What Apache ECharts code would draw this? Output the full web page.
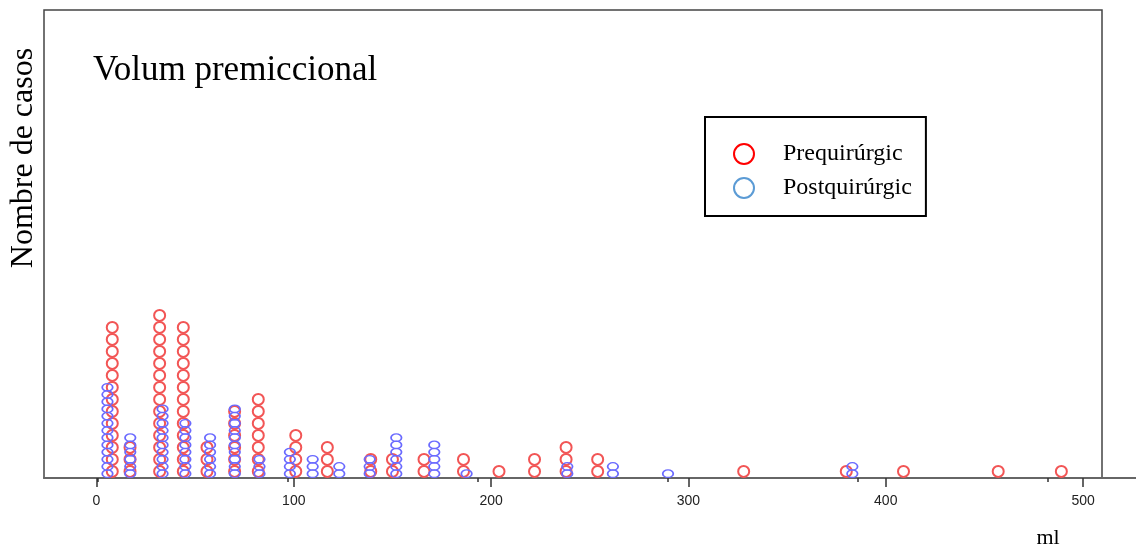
<!DOCTYPE html>
<html>
<head>
<meta charset="utf-8">
<script src="https://cdn.jsdelivr.net/npm/echarts@6/dist/echarts.min.js"></script>
<style>
  html, body { margin: 0; padding: 0; background: #fff; }
  #chart { width: 1142px; height: 549px; }
</style>
</head>
<body>
<div id="chart"></div>
<script>
// x ticks (ml)
const xTicks = [0, 100, 200, 300, 400, 500];

// Prequirúrgic: volume (ml) and number of cases at that volume
const preVolumes = [8, 17, 32, 44, 56, 70, 82, 101, 117, 139, 150, 166, 186, 204, 222, 238, 254, 328, 380, 409, 457, 489];
const preCounts  = [13, 3, 14, 13, 3, 6, 7, 4, 3, 2, 2, 2, 2, 1, 2, 3, 2, 1, 1, 1, 1, 1];

// Postquirúrgic (drawn on its own, slightly narrower x scale)
const postVolumes = [5, 17, 34, 46, 59, 72, 85, 101, 113, 127, 143, 157, 177, 194, 247, 271, 300, 397];
const postCounts  = [13, 6, 10, 8, 6, 10, 3, 4, 3, 2, 3, 6, 5, 1, 2, 2, 1, 2];

const serif = '"Liberation Serif", "Times New Roman", serif';

// one dot per case, stacked upward
function stackDots(volumes, counts) {
  const pts = [];
  volumes.forEach((v, i) => {
    for (let k = 0; k < counts[i]; k++) pts.push([v, k]);
  });
  return pts;
}

const chart = echarts.init(document.getElementById('chart'));

chart.setOption({
  animation: false,
  backgroundColor: '#fff',
  grid: {
    left: 44, right: 40, top: 10, bottom: 71,
    show: true, borderColor: '#444', borderWidth: 1.5
  },
  legend: {
    left: 705, top: 117,
    orient: 'vertical',
    padding: [25, 14, 16, 28],
    borderColor: '#000', borderWidth: 2,
    itemWidth: 20, itemHeight: 20, itemGap: 10,
    textStyle: { fontFamily: serif, fontSize: 24, color: '#000', lineHeight: 20, padding: [0, 0, 0, 24] },
    data: [
      { name: 'Prequirúrgic', icon: 'circle',
        itemStyle: { color: 'rgba(255,255,255,0)', borderColor: '#ff0000', borderWidth: 2 } },
      { name: 'Postquirúrgic', icon: 'circle',
        itemStyle: { color: 'rgba(255,255,255,0)', borderColor: '#5b9bd5', borderWidth: 2 } }
    ]
  },
  xAxis: [
    {
      type: 'value', min: -26.6, max: 509.6,
      splitLine: { show: false },
      axisLine: { show: true, onZero: false, lineStyle: { color: '#666', width: 2 } },
      axisTick: { show: true, length: 9, customValues: xTicks, lineStyle: { color: '#333', width: 1.5 } },
      axisLabel: { customValues: xTicks, margin: 16, fontFamily: '"Liberation Sans", Arial, sans-serif', fontSize: 14, color: '#222' }
    },
    {
      type: 'value', min: -28.4, max: 528.4, position: 'bottom',
      splitLine: { show: false },
      axisLine: { show: false, onZero: false },
      axisTick: { show: true, length: 4, customValues: xTicks, lineStyle: { color: '#333', width: 1.5 } },
      axisLabel: { show: false }
    }
  ],
  yAxis: [
    { type: 'value', show: false, min: -0.55, max: 38.45, splitLine: { show: false } },
    { type: 'value', show: false, min: -0.6, max: 64.4, splitLine: { show: false } }
  ],
  series: [
    {
      name: 'Prequirúrgic', type: 'scatter',
      xAxisIndex: 0, yAxisIndex: 0,
      symbol: 'circle', symbolSize: 11,
      itemStyle: { color: 'rgba(255,255,255,0)', borderColor: '#f25555', borderWidth: 2, opacity: 1 },
      data: stackDots(preVolumes, preCounts)
    },
    {
      name: 'Postquirúrgic', type: 'scatter',
      xAxisIndex: 1, yAxisIndex: 1,
      symbol: 'circle', symbolSize: [10.5, 7.5],
      itemStyle: { color: 'rgba(255,255,255,0)', borderColor: '#6a6aff', borderWidth: 1.5, opacity: 1 },
      data: stackDots(postVolumes, postCounts)
    }
  ],
  graphic: [
    { type: 'line', shape: { x1: 1102, y1: 478, x2: 1136, y2: 478 }, style: { stroke: '#666', lineWidth: 2 } },
    { type: 'text', x: 93, y: 71,
      style: { text: 'Volum premiccional', font: '35px ' + serif, fill: '#000', textAlign: 'left', textVerticalAlign: 'middle' } },
    { type: 'text', x: 24, y: 158, rotation: Math.PI / 2,
      style: { text: 'Nombre de casos', font: '32px ' + serif, fill: '#000', textAlign: 'center', textVerticalAlign: 'middle' } },
    { type: 'text', x: 1048, y: 538,
      style: { text: 'ml', font: '22px ' + serif, fill: '#000', textAlign: 'center', textVerticalAlign: 'middle' } }
  ]
});
</script>
</body>
</html>
